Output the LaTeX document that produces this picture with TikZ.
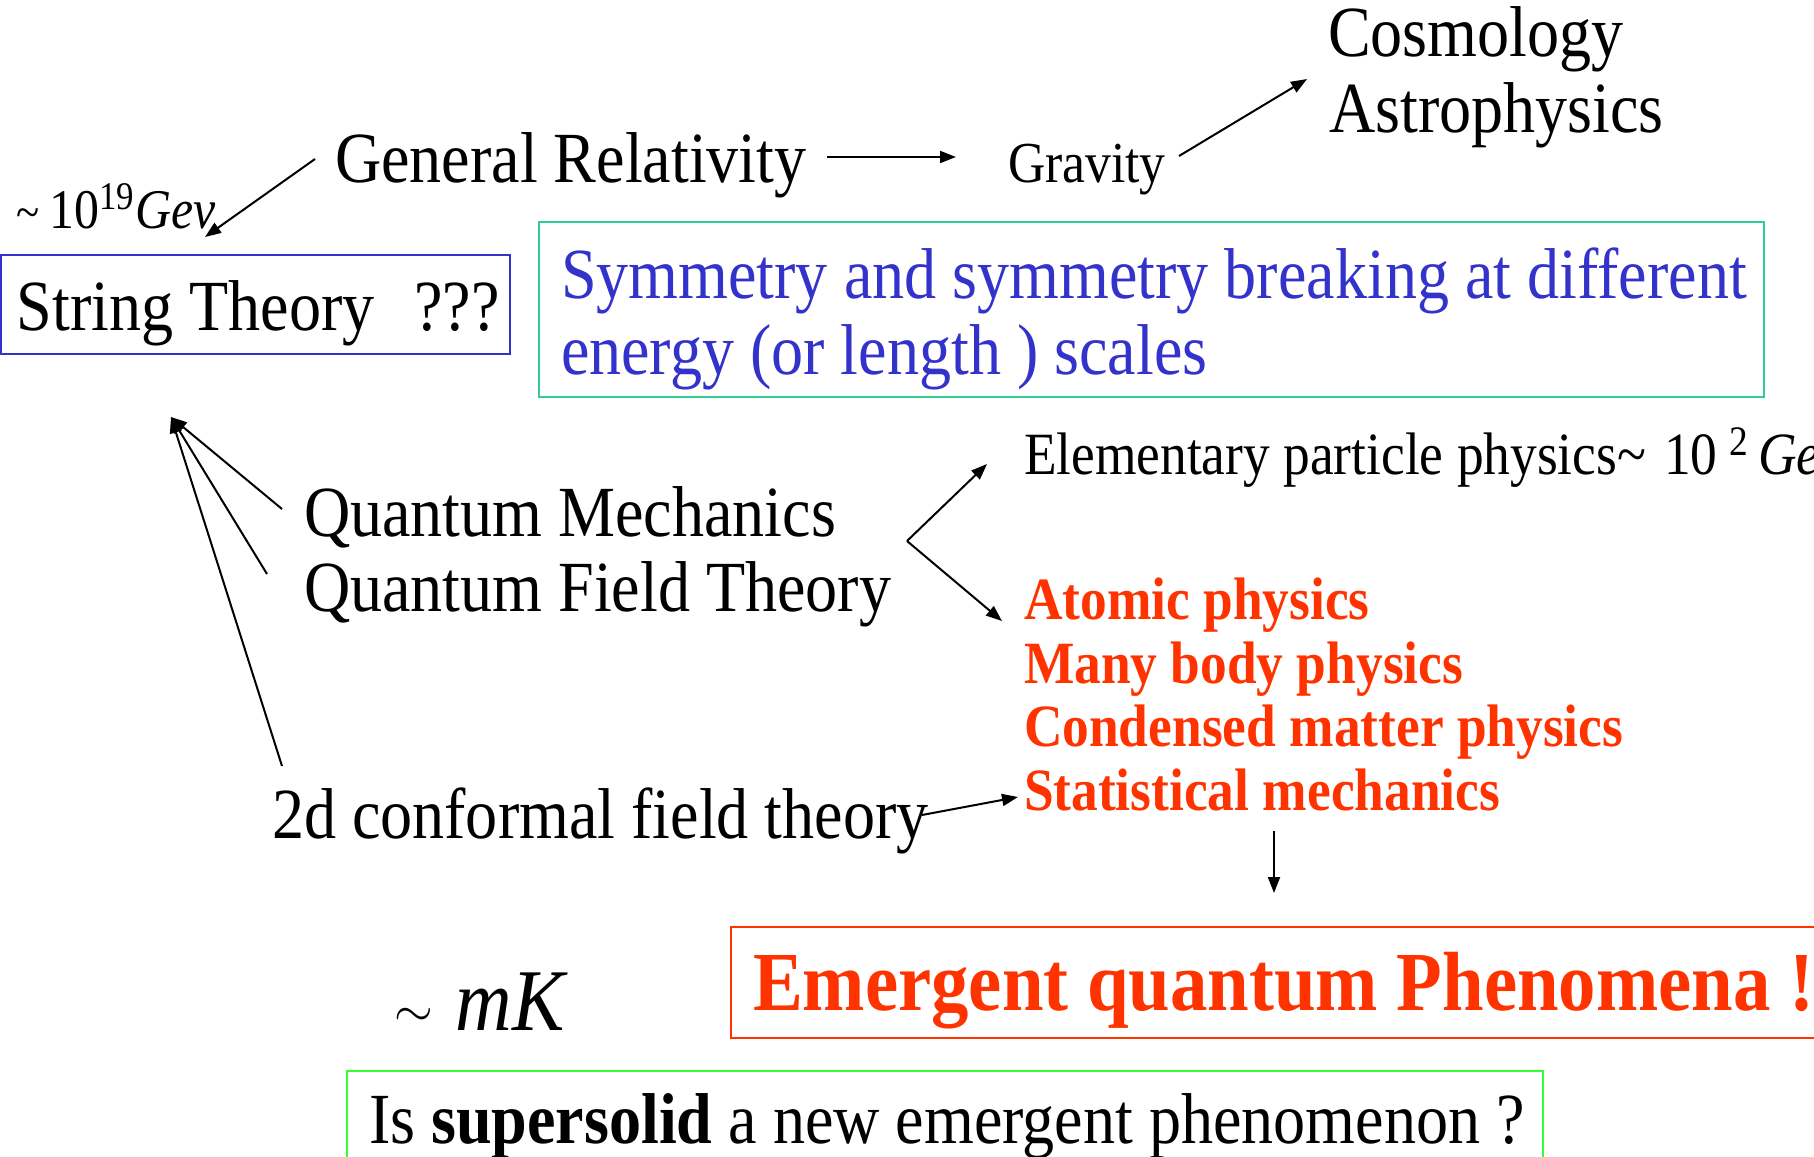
\documentclass[tikz,border=0pt]{standalone}
\usepackage{fontspec}
\setmainfont[FakeStretch=0.89]{Liberation Serif}
\usetikzlibrary{arrows.meta}
\definecolor{symblue}{RGB}{51,51,204}
\definecolor{boxteal}{RGB}{51,204,153}
\definecolor{emred}{RGB}{255,51,0}
\definecolor{boxgreen}{RGB}{51,255,51}
\newcommand{\fsz}[1]{\fontsize{#1}{#1}\selectfont}

\begin{document}
\begin{tikzpicture}[x=0.5pt, y=-0.5pt, >={Triangle[length=8pt,width=6pt]}, line width=1pt,
  lbl/.style={anchor=base west, inner sep=0pt},
  big/.style={lbl, font=\fsz{36}},
  mid/.style={lbl, font=\fsz{30}},
  redtxt/.style={lbl, font=\fsz{30}\bfseries, text=emred}]
  \useasboundingbox (0,0) rectangle (1814,1156);

  % Boxes
  \draw[symblue] (1,255) rectangle (510,354);
  \draw[boxteal] (539,222) rectangle (1764,397);
  \draw[emred] (731,927) rectangle (1830,1038);
  \draw[boxgreen] (347,1071) rectangle (1543,1170);

  % Texts
  \node[big] (cosmo) at (1327,57) {Cosmology};
  \node[big] (astro) at (1328,133) {Astrophysics};
  \node[big] (gr) at (334,183) {General Relativity};
  \node[lbl, font=\fsz{29}] (grav) at (1007,183) {Gravity};
  \node[lbl, font=\fsz{28}] (planck) at (16,228) {{\fsz{24}\textasciitilde}\,10\textsuperscript{19}\textit{Gev}};
  \node[big] (string) at (16,330) {String Theory\hspace{0.55em}???};
  \node[big, text=symblue] (sym1) at (560,298) {Symmetry and symmetry breaking at different};
  \node[big, text=symblue] (sym2) at (560,374) {energy (or length ) scales};
  \node[big] (qm) at (303,536) {Quantum Mechanics};
  \node[big] (qft) at (303,611) {Quantum Field Theory};
  \node[mid] (ep) at (1023,474) {Elementary particle physics\textasciitilde\hspace{0.3em}10\hspace{0.2em}\textsuperscript{2}\hspace{0.15em}\textit{Gev}};
  \node[redtxt] (atom) at (1023,619) {Atomic physics};
  \node[redtxt] (many) at (1023,683) {Many body physics};
  \node[redtxt] (cond) at (1023,746) {Condensed matter physics};
  \node[redtxt] (stat) at (1023,810) {Statistical mechanics};
  \node[big] (cft) at (271,838) {2d conformal field theory};
  \node[lbl, font=\fsz{42}\bfseries, text=emred] (emq) at (752,1010) {Emergent quantum Phenomena !};
  \node[lbl, font=\fsz{37}] (mk) at (393,1030) {\raisebox{2pt}{$\sim$}\hspace{0.31em}{\fsz{44}\textit{mK}}};
  \node[big] (super) at (368,1143) {Is \textbf{supersolid} a new emergent phenomenon ?};

  % Arrow ends
  \coordinate (gr_r) at (827,157);
  \coordinate (grav_l) at (956,157);
  \coordinate (grav_r) at (1179,156);
  \coordinate (cosmo_l) at (1307,79);
  \coordinate (gr_l) at (315,159);
  \coordinate (planck_r) at (205,237);
  \coordinate (string_b) at (171,417);
  \coordinate (qm_l) at (282,509);
  \coordinate (qft_l) at (267,574);
  \coordinate (cft_l) at (282,766);
  \coordinate (fork) at (907,541);
  \coordinate (ep_l) at (987,464);
  \coordinate (atom_l) at (1002,621);
  \coordinate (cft_r) at (922,815);
  \coordinate (stat_l) at (1018,797);
  \coordinate (stat_b) at (1274,831);
  \coordinate (emq_t) at (1274,893);

  % Arrows
  \draw[->] (gr_r) -- (grav_l);
  \draw[->] (grav_r) -- (cosmo_l);
  \draw[->] (gr_l) -- (planck_r);
  \draw[->] (qm_l) -- (string_b);
  \draw[->] (qft_l) -- (string_b);
  \draw[->] (cft_l) -- (string_b);
  \draw[->] (fork) -- (ep_l);
  \draw[->] (fork) -- (atom_l);
  \draw[->] (cft_r) -- (stat_l);
  \draw[->] (stat_b) -- (emq_t);
\end{tikzpicture}
\end{document}
